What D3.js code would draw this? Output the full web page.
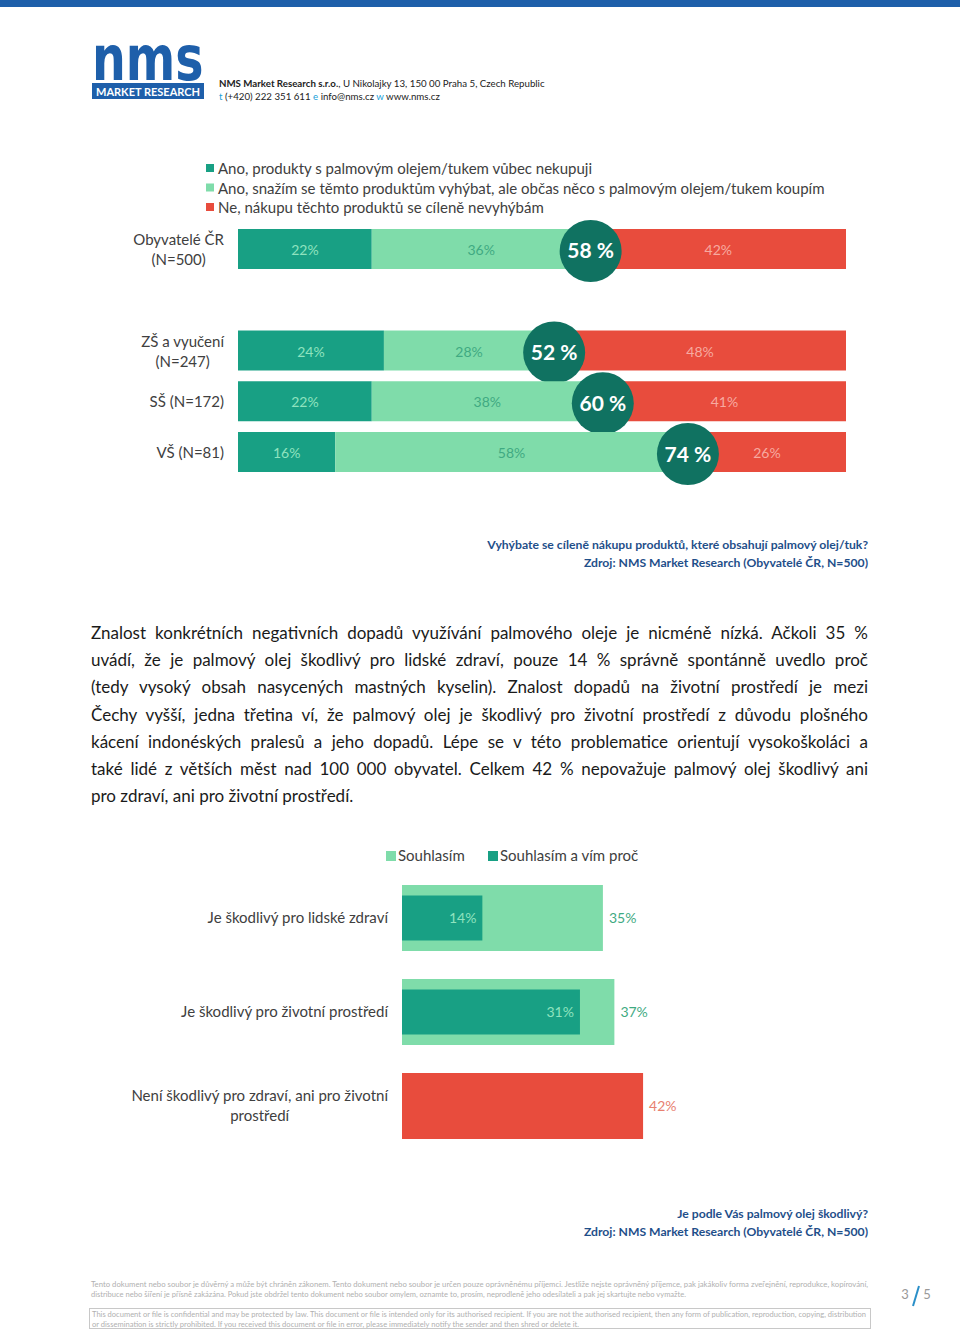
<!DOCTYPE html>
<html><head><meta charset="utf-8">
<script src="https://cdn.jsdelivr.net/npm/d3@7/dist/d3.min.js"></script>
<style>
body{margin:0;background:#fff;}
#page{position:relative;width:960px;height:1331px;overflow:hidden;background:#fff;}
#page svg{position:absolute;left:0;top:0;}
.para{position:absolute;left:91px;width:777px;font-family:Lato,"Open Sans",sans-serif;font-size:17px;color:#1a1a1a;white-space:nowrap;}
.para.j{text-align:justify;text-align-last:justify;white-space:normal;}
</style></head>
<body><div id="page"></div>
<script>
// ---------- DATA ----------
const legend1 = ["Ano, produkty s palmovým olejem/tukem vůbec nekupuji",
  "Ano, snažím se těmto produktům vyhýbat, ale občas něco s palmovým olejem/tukem koupím",
  "Ne, nákupu těchto produktů se cíleně nevyhýbám"];
const groups = [["Obyvatelé ČR","(N=500)"],["ZŠ a vyučení","(N=247)"],["SŠ (N=172)"],["VŠ (N=81)"]];
const neverBuy = [22,24,22,16];
const tryAvoid = [36,28,38,58];
const notAvoid = [42,48,41,26];
const avoidTotal = [58,52,60,74];

const legend2 = ["Souhlasím","Souhlasím a vím proč"];
const statements = [["Je škodlivý pro lidské  zdraví"],["Je škodlivý pro životní prostředí"],["Není škodlivý pro zdraví, ani pro životní","prostředí"]];
const agree = [35,37,42];
const agreeKnowWhy = [14,31,null];

const caption1 = ["Vyhýbate se cíleně nákupu produktů, které obsahují palmový olej/tuk?","Zdroj: NMS Market Research (Obyvatelé ČR, N=500)"];
const caption2 = ["Je podle Vás palmový olej škodlivý?","Zdroj: NMS Market Research (Obyvatelé ČR, N=500)"];
const paragraph = [
 "Znalost konkrétních negativních dopadů využívání palmového oleje je nicméně nízká. Ačkoli 35 %",
 "uvádí, že je palmový olej škodlivý pro lidské zdraví, pouze 14 % správně spontánně uvedlo proč",
 "(tedy vysoký obsah nasycených mastných kyselin). Znalost dopadů na životní prostředí je mezi",
 "Čechy vyšší, jedna třetina ví, že palmový olej je škodlivý pro životní prostředí z důvodu plošného",
 "kácení indonéských pralesů a jeho dopadů. Lépe se v této problematice orientují vysokoškoláci a",
 "také lidé z větších měst nad 100 000 obyvatel. Celkem 42 % nepovažuje palmový olej škodlivý ani",
 "pro zdraví, ani pro životní prostředí."];
const footerCz = ["Tento dokument nebo soubor je důvěrný a může být chráněn zákonem. Tento dokument nebo soubor je určen pouze oprávněnému příjemci. Jestliže nejste oprávněný příjemce, pak jakákoliv forma zveřejnění, reprodukce, kopírování,",
 "distribuce nebo šíření je přísně zakázána. Pokud jste obdržel tento dokument nebo soubor omylem, oznamte to, prosím, neprodleně jeho odesílateli a pak jej skartujte nebo vymažte."];
const footerEn = ["This document or file is confidential and may be protected by law. This document or file is intended only for its authorised recipient. If you are not the authorised recipient, then any form of publication, reproduction, copying, distribution",
 "or dissemination is strictly prohibited. If you received this document or file in error, please immediately notify the sender and then shred or delete it."];

// ---------- STYLE ----------
const C = {dark:"#18a084", light:"#7fdcaa", red:"#e84c3d", circle:"#107261",
  tDark:"#8fe3bf", tLight:"#3faa82", tRed:"#f7aaa0", label:"#404040", blue:"#1e5faa", cap:"#1f4f8a"};
const FONT = "Lato, 'Open Sans', sans-serif";

const page = d3.select("#page");
const svg = page.append("svg").attr("width",960).attr("height",1331).style("font-family",FONT);

// ---------- HEADER ----------
svg.append("rect").attr("x",0).attr("y",0).attr("width",960).attr("height",7).attr("fill",C.blue);
svg.append("text").attr("transform","translate(92,80) scale(1,1.3)").attr("fill",C.blue).attr("font-size",47.5).attr("font-weight",700)
  .style("font-family","'DejaVu Sans', sans-serif").text("nms");
svg.append("rect").attr("x",92).attr("y",83).attr("width",112).attr("height",16).attr("fill",C.blue);
svg.append("text").attr("x",148).attr("y",95.5).attr("text-anchor","middle").attr("fill","#fff").attr("font-size",10.5).attr("font-weight",700)
  .attr("textLength",104).attr("lengthAdjust","spacingAndGlyphs").text("MARKET RESEARCH");
const h1 = svg.append("text").attr("x",219).attr("y",86.5).attr("font-size",9.7).attr("fill","#222");
h1.append("tspan").attr("font-weight",700).text("NMS Market Research s.r.o.");
h1.append("tspan").text(", U Nikolajky 13, 150 00 Praha 5, Czech Republic");
const h2 = svg.append("text").attr("x",219).attr("y",99.5).attr("font-size",9.7).attr("fill","#222");
[["t ","(+420) 222 351 611  "],["e ","info@nms.cz  "],["w ","www.nms.cz"]].forEach(p=>{
  h2.append("tspan").attr("fill","#1aa0d8").text(p[0]);
  h2.append("tspan").text(p[1]);
});

// ---------- CHART 1 ----------
const x1 = d3.scaleLinear().domain([0,100]).range([238,846]);
const rowKeys = ["g0","gap","g1","g2","g3"];
const y1 = d3.scaleBand().domain(rowKeys).range([229,472]).paddingInner(0.212).paddingOuter(0);
const rowOf = i => i===0 ? "g0" : "g"+i;

const lg1 = svg.append("g");
legend1.forEach((t,i)=>{
  const yy = 174 + i*19.5;
  lg1.append("rect").attr("x",206).attr("y",yy-10).attr("width",8).attr("height",8).attr("fill",[C.dark,C.light,C.red][i]);
  lg1.append("text").attr("x",218).attr("y",yy).attr("font-size",15).attr("fill",C.label).text(t);
});

const rows1 = groups.map((g,i)=>({g,i,segs:[
  {s:0,e:neverBuy[i],v:neverBuy[i],fill:C.dark,tc:C.tDark},
  {s:neverBuy[i],e:neverBuy[i]+tryAvoid[i],v:tryAvoid[i],fill:C.light,tc:C.tLight},
  {s:neverBuy[i]+tryAvoid[i],e:100,v:notAvoid[i],fill:C.red,tc:C.tRed}]}));

const rg = svg.append("g").selectAll("g").data(rows1).join("g");
rg.each(function(d){
  const g = d3.select(this);
  const y0 = y1(rowOf(d.i)), bh = y1.bandwidth();
  g.selectAll("rect").data(d.segs).join("rect")
    .attr("x",s=>x1(s.s)).attr("y",y0).attr("width",s=>x1(s.e)-x1(s.s)).attr("height",bh).attr("fill",s=>s.fill);
  g.selectAll("text.v").data(d.segs).join("text").attr("class","v")
    .attr("x",s=>(x1(s.s)+x1(s.e))/2).attr("y",y0+bh/2+6).attr("text-anchor","middle")
    .attr("font-size",14).attr("fill",s=>s.tc).text(s=>s.v+"%");
  const cx = x1(avoidTotal[d.i]);
  g.append("circle").attr("cx",cx).attr("cy",y0+bh/2+2).attr("r",31).attr("fill",C.circle);
  g.append("text").attr("x",cx).attr("y",y0+bh/2+9.5).attr("text-anchor","middle").attr("font-size",21)
    .attr("font-weight",700).attr("fill","#fff").text(avoidTotal[d.i]+" %");
  // category label
  const lab = g.append("g");
  const ts = d.g.map((t,k)=>lab.append("text").attr("font-size",15).attr("fill",C.label)
     .attr("y",y0+bh/2+6 + (k-(d.g.length-1)/2)*20).text(t));
  const w = d3.max(ts,t=>t.node().getComputedTextLength());
  ts.forEach(t=>t.attr("x",224-w/2).attr("text-anchor","middle"));
});

// captions
function caption(lines,y){
  lines.forEach((t,i)=>svg.append("text").attr("x",868).attr("y",y+i*18).attr("text-anchor","end")
    .attr("font-size",12.2).attr("font-weight",700).attr("fill",C.cap).text(t));
}
caption(caption1,549);

// ---------- PARAGRAPH ----------
paragraph.forEach((t,i)=>{
  page.append("div").attr("class","para"+(i<paragraph.length-1?" j":""))
    .style("top",(622+i*27.2)+"px").text(t);
});

// ---------- CHART 2 ----------
const x2 = d3.scaleLinear().domain([0,100]).range([402,976]);
const y2 = d3.scaleBand().domain(d3.range(statements.length)).range([885,1139]).paddingInner(28/94).paddingOuter(0);

const lg2 = svg.append("g");
[[386,398],[488,500]].forEach((p,i)=>{
  lg2.append("rect").attr("x",p[0]).attr("y",851).attr("width",10).attr("height",10).attr("fill",[C.light,C.dark][i]);
  lg2.append("text").attr("x",p[1]).attr("y",861).attr("font-size",15).attr("fill",C.label).text(legend2[i]);
});

const r2 = svg.append("g").selectAll("g").data(d3.range(statements.length)).join("g");
r2.each(function(i){
  const g = d3.select(this);
  const y0 = y2(i), bh = y2.bandwidth();
  const isRed = agreeKnowWhy[i]===null;
  g.append("rect").attr("x",x2(0)).attr("y",y0).attr("width",x2(agree[i])-x2(0)).attr("height",bh)
    .attr("fill",isRed?C.red:C.light);
  g.append("text").attr("x",x2(agree[i])+6).attr("y",y0+bh/2+5).attr("font-size",14)
    .attr("fill",isRed?"#e8806f":C.tLight).text(agree[i]+"%");
  if(!isRed){
    const ih = 45;
    g.append("rect").attr("x",x2(0)).attr("y",y0+(bh-ih)/2).attr("width",x2(agreeKnowWhy[i])-x2(0)).attr("height",ih).attr("fill",C.dark);
    g.append("text").attr("x",x2(agreeKnowWhy[i])-6).attr("y",y0+bh/2+5).attr("text-anchor","end").attr("font-size",14)
      .attr("fill",C.tDark).text(agreeKnowWhy[i]+"%");
  }
  const lab = g.append("g");
  const lines = statements[i];
  const ts = lines.map((t,k)=>lab.append("text").attr("font-size",15).attr("fill",C.label)
    .attr("y",y0+bh/2+5+(k-(lines.length-1)/2)*20).text(t));
  const w = d3.max(ts,t=>t.node().getComputedTextLength());
  ts.forEach(t=>t.attr("x",388-w/2).attr("text-anchor","middle"));
});
caption(caption2,1218);

// ---------- FOOTER ----------
footerCz.forEach((t,i)=>{
  const el = svg.append("text").attr("x",91).attr("y",1287+i*10).attr("font-size",7).attr("fill","#b0b0b0").text(t);
  el.attr("textLength",i===0?777:595).attr("lengthAdjust","spacingAndGlyphs");
});
svg.append("rect").attr("x",89.5).attr("y",1308.5).attr("width",781).attr("height",20).attr("fill","none").attr("stroke","#c8c8c8");
footerEn.forEach((t,i)=>{
  const el = svg.append("text").attr("x",92).attr("y",1317+i*10).attr("font-size",7).attr("fill","#b0b0b0").text(t);
  el.attr("textLength",i===0?774:487).attr("lengthAdjust","spacingAndGlyphs");
});
svg.append("text").attr("x",905).attr("y",1299).attr("text-anchor","middle").attr("font-size",13).attr("fill","#999").text("3");
svg.append("line").attr("x1",913).attr("y1",1306).attr("x2",919).attr("y2",1286).attr("stroke","#2a8fc8").attr("stroke-width",2);
svg.append("text").attr("x",927).attr("y",1299).attr("text-anchor","middle").attr("font-size",13).attr("fill","#999").text("5");
</script>
</body></html>
